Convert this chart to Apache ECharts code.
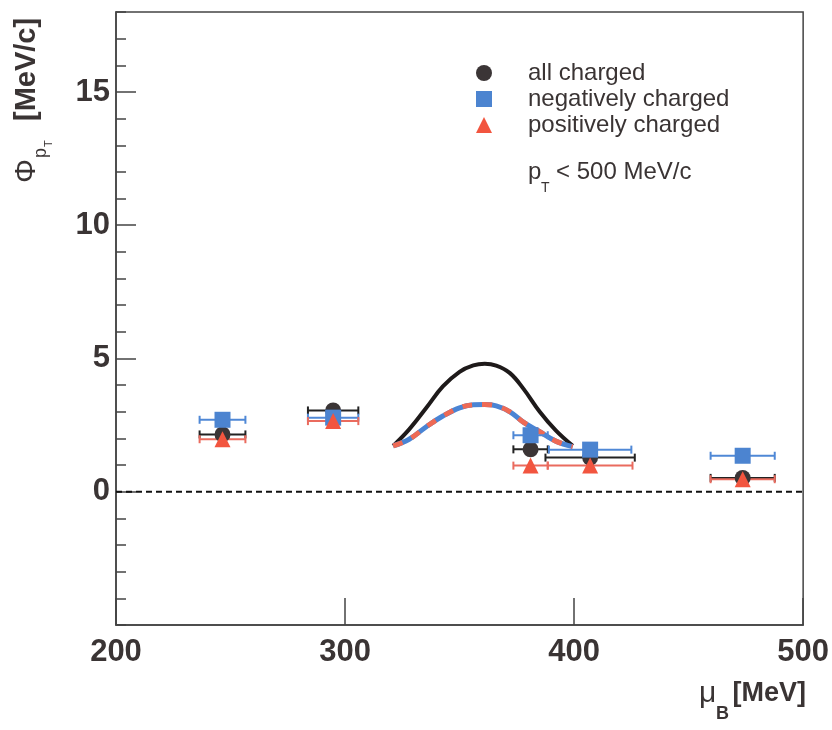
<!DOCTYPE html>
<html>
<head>
<meta charset="utf-8">
<script src="https://cdn.jsdelivr.net/npm/echarts@6/dist/echarts.min.js"></script>
<style>
  html, body { margin: 0; padding: 0; background: #fff; }
  #chart { width: 832px; height: 730px; }
</style>
</head>
<body>
<div id="chart"></div>
<script>
// data
const muB = [246.5, 294.8, 381, 407, 473.6]
const allCharged = [2.15, 3.05, 1.59, 1.28, 0.52]
const negCharged = [2.7, 2.78, 2.12, 1.58, 1.35]
const posCharged = [1.97, 2.65, 0.98, 0.98, 0.47]
const errAll = [10, 11, 7.5, 19.5, 14]
const errNeg = [10, 11, 7.5, 18, 14]
const errPos = [10, 11, 7.5, 18.5, 14]

// model curves
const curveMu = [321, 328, 335.5, 342.7, 350, 356, 361, 366, 372, 378, 385, 392, 399.4]
const curveAll = [1.72, 2.34, 3.15, 3.95, 4.5, 4.74, 4.8, 4.73, 4.45, 3.85, 3.0, 2.3, 1.72]
const curveSplit = [1.72, 1.97, 2.44, 2.84, 3.15, 3.26, 3.27, 3.22, 3.0, 2.6, 2.25, 1.9, 1.69]

const zeroLine = [[200, 0], [500, 0]]
const legendNames = ['all charged', 'negatively charged', 'positively charged']

const textColor = '#3a3434'
const font = 'Liberation Sans, Arial, sans-serif'

const chart = echarts.init(document.getElementById('chart'))

const pairs = (ys) => muB.map((m, i) => [m, ys[i]])
const triples = (ys, es) => muB.map((m, i) => [m, ys[i], es[i]])

const errorBars = (color) => (params, api) => {
  const x = api.value(0)
  const y = api.value(1)
  const e = api.value(2)
  const a = api.coord([x - e, y])
  const b = api.coord([x + e, y])
  const h = 4
  const style = { stroke: color, lineWidth: 2 }
  return {
    type: 'group',
    children: [
      { type: 'line', shape: { x1: a[0], y1: a[1], x2: b[0], y2: b[1] }, style },
      { type: 'line', shape: { x1: a[0], y1: a[1] - h, x2: a[0], y2: a[1] + h }, style },
      { type: 'line', shape: { x1: b[0], y1: b[1] - h, x2: b[0], y2: b[1] + h }, style }
    ]
  }
}

const option = {
  animation: false,
  grid: {
    left: 116,
    right: 28,
    top: 12,
    bottom: 105,
    show: true,
    borderColor: '#444',
    borderWidth: 1.5
  },
  legend: {
    data: legendNames,
    orient: 'vertical',
    left: 476,
    top: 60,
    padding: 0,
    itemWidth: 16,
    itemHeight: 16,
    itemGap: 0,
    textStyle: {
      fontFamily: font,
      fontSize: 24,
      color: textColor,
      lineHeight: 26,
      padding: [0, 0, 0, 31]
    }
  },
  xAxis: {
    type: 'value',
    min: 200,
    max: 500,
    interval: 100,
    axisLine: { onZero: false, lineStyle: { color: '#444', width: 1.5 } },
    axisTick: { inside: true, length: 27, lineStyle: { color: '#444', width: 1.5 } },
    axisLabel: {
      fontFamily: font,
      fontWeight: 'bold',
      fontSize: 31,
      color: textColor,
      margin: 12
    },
    splitLine: { show: false }
  },
  yAxis: [
    {
      type: 'value',
      min: -5,
      max: 18,
      interval: 5,
      axisLine: { show: true, onZero: false, lineStyle: { color: '#444', width: 1.5 } },
      axisTick: { inside: true, length: 20, lineStyle: { color: '#444', width: 1.5 } },
      axisLabel: {
        fontFamily: font,
        fontWeight: 'bold',
        fontSize: 31,
        color: textColor,
        margin: 6,
        showMinLabel: false,
        showMaxLabel: false,
        formatter: (v) => (v < 0 || v > 16 ? '' : String(v))
      },
      splitLine: { show: false }
    },
    {
      type: 'value',
      position: 'left',
      min: -5,
      max: 18,
      interval: 1,
      axisLine: { show: false, onZero: false },
      axisTick: { inside: true, length: 10, lineStyle: { color: '#444', width: 1.5 } },
      axisLabel: { show: false },
      splitLine: { show: false }
    }
  ],
  graphic: [
    {
      type: 'group',
      x: 27,
      y: 183,
      rotation: Math.PI / 2,
      children: [
        { type: 'text', x: 0, y: 0, style: { text: 'Φ', fontFamily: font, fontSize: 30, fill: textColor, align: 'left', verticalAlign: 'middle' } },
        { type: 'text', x: 25, y: 14, style: { text: 'p', fontFamily: font, fontSize: 18, fill: textColor, align: 'left', verticalAlign: 'middle' } },
        { type: 'text', x: 36, y: 22, style: { text: 'T', fontFamily: font, fontSize: 11, fill: textColor, align: 'left', verticalAlign: 'middle' } },
        { type: 'text', x: 62, y: 0, style: { text: '[MeV/c]', fontFamily: font, fontWeight: 'bold', fontSize: 29, fill: textColor, align: 'left', verticalAlign: 'middle' } }
      ]
    },
    { type: 'text', x: 699, y: 694, style: { text: 'μ', fontFamily: font, fontSize: 30, fill: textColor, align: 'left', verticalAlign: 'middle' } },
    { type: 'text', x: 716, y: 714, style: { text: 'B', fontFamily: font, fontWeight: 'bold', fontSize: 18, fill: textColor, align: 'left', verticalAlign: 'middle' } },
    { type: 'text', x: 806, y: 694, style: { text: '[MeV]', fontFamily: font, fontWeight: 'bold', fontSize: 27, fill: textColor, align: 'right', verticalAlign: 'middle' } },
    { type: 'text', x: 528, y: 172, style: { text: 'p', fontFamily: font, fontSize: 24, fill: textColor, align: 'left', verticalAlign: 'middle' } },
    { type: 'text', x: 541, y: 188, style: { text: 'T', fontFamily: font, fontSize: 14, fill: textColor, align: 'left', verticalAlign: 'middle' } },
    { type: 'text', x: 556, y: 172, style: { text: '< 500 MeV/c', fontFamily: font, fontSize: 24, fill: textColor, align: 'left', verticalAlign: 'middle' } }
  ],
  series: [
    {
      name: 'zero',
      type: 'line',
      data: zeroLine,
      symbol: 'none',
      lineStyle: { color: '#111', width: 2, type: [6, 4] },
      z: 1
    },
    {
      name: 'model all',
      type: 'line',
      data: curveMu.map((m, i) => [m, curveAll[i]]),
      smooth: 0.4,
      symbol: 'none',
      lineStyle: { color: '#1e1a1a', width: 4 },
      z: 2
    },
    {
      name: 'model split blue',
      type: 'line',
      data: curveMu.map((m, i) => [m, curveSplit[i]]),
      smooth: 0.4,
      symbol: 'none',
      lineStyle: { color: '#4a84d4', width: 5 },
      z: 2
    },
    {
      name: 'model split red',
      type: 'line',
      data: curveMu.map((m, i) => [m, curveSplit[i]]),
      smooth: 0.4,
      symbol: 'none',
      lineStyle: { color: '#ee6a55', width: 5, type: [10, 10] },
      z: 2
    },
    {
      name: 'err all',
      type: 'custom',
      data: triples(allCharged, errAll),
      encode: { x: 0, y: 1 },
      renderItem: errorBars('#222'),
      z: 3
    },
    {
      name: 'err neg',
      type: 'custom',
      data: triples(negCharged, errNeg),
      encode: { x: 0, y: 1 },
      renderItem: errorBars('#4f88d6'),
      z: 3
    },
    {
      name: 'err pos',
      type: 'custom',
      data: triples(posCharged, errPos),
      encode: { x: 0, y: 1 },
      renderItem: errorBars('#ea6b5e'),
      z: 3
    },
    {
      name: 'all charged',
      type: 'scatter',
      data: pairs(allCharged),
      symbol: 'circle',
      symbolSize: 16,
      itemStyle: { color: '#3b3536', opacity: 1 },
      z: 4
    },
    {
      name: 'negatively charged',
      type: 'scatter',
      data: pairs(negCharged),
      symbol: 'rect',
      symbolSize: 16,
      itemStyle: { color: '#4c84d0', opacity: 1 },
      z: 5
    },
    {
      name: 'positively charged',
      type: 'scatter',
      data: pairs(posCharged),
      symbol: 'triangle',
      symbolSize: 16,
      itemStyle: { color: '#f2553f', opacity: 1 },
      z: 6
    }
  ]
}

chart.setOption(option)
</script>
</body>
</html>
